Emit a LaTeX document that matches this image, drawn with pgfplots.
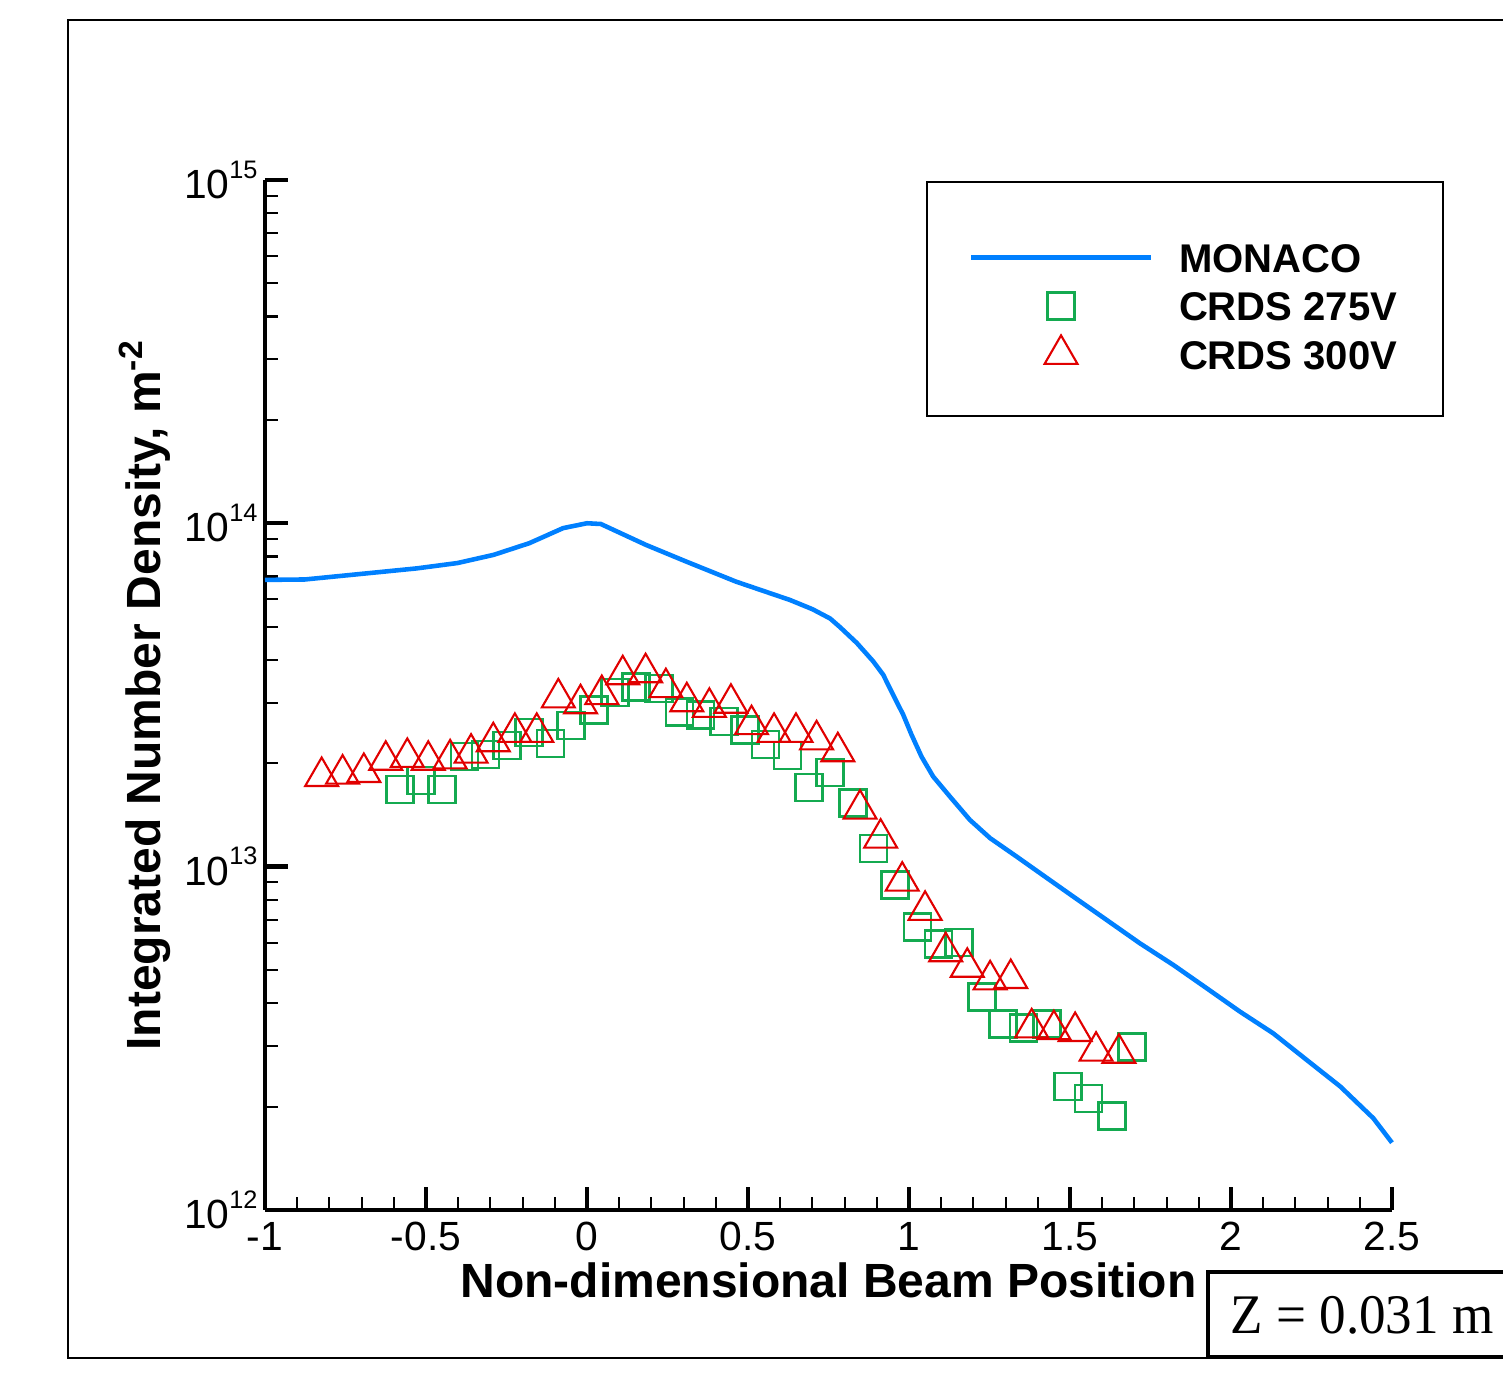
\documentclass[border=0pt]{standalone}
\usepackage{pgfplots}
\pgfplotsset{compat=1.18}
\usepackage{fontspec}
\setmainfont{Liberation Sans}
\newfontfamily\serifZ[FakeStretch=0.95]{Liberation Serif}
\definecolor{monaco}{RGB}{0,128,255}
\definecolor{sqgreen}{RGB}{20,170,80}
\definecolor{trired}{RGB}{225,0,0}
\newcommand{\tensup}[1]{10\raisebox{0.95ex}{\fontsize{7.2}{7.2}\selectfont #1}}
\pgfplotsset{
 mylineleg/.style={legend image code/.code={\path[draw=none] (0cm,-1.45mm) rectangle (1.8cm,1.45mm); \draw[##1, overlay] (0cm,0cm) -- (1.8cm,0cm);}},
 mymarkleg/.style={legend image code/.code={\path[draw=none] (0cm,-1.45mm) rectangle (1.8cm,1.45mm); \draw[##1, overlay] plot coordinates {(0.9cm,0cm)};}},
}

\begin{document}
\begin{tikzpicture}
\useasboundingbox (-2.65cm,-1.73cm) rectangle (12.38cm,12.10cm);
\draw[line width=0.6pt] (-1.97cm,-1.48cm) rectangle (13cm,11.90cm);
\draw[line width=0.6pt] (6.62cm,7.94cm) rectangle (11.78cm,10.28cm);
\begin{axis}[
 at={(0,0)}, anchor=south west, scale only axis,
 width=11.27cm, height=10.30cm,
 xmin=-1, xmax=2.5, ymode=log, ymin=1e12, ymax=1e15,
 axis x line=bottom, axis y line=left,
 axis line style={-, line width=1.3pt},
 tick align=inside,
 xtick={-1,-0.5,0,0.5,1,1.5,2,2.5},
 xticklabels={-1,-0.5,0,0.5,1,1.5,2,2.5},
 minor x tick num=4,
 ytick={1e12,1e13,1e14,1e15},
 yticklabels={\tensup{12},\tensup{13},\tensup{14},\tensup{15}},
 minor ytick={2e12,3e12,4e12,5e12,6e12,7e12,8e12,9e12,2e13,3e13,4e13,5e13,6e13,7e13,8e13,9e13,2e14,3e14,4e14,5e14,6e14,7e14,8e14,9e14},
 major tick length=2.3mm, minor tick length=1.3mm,
 every major tick/.append style={line width=1.2pt, black},
 every minor tick/.append style={line width=0.6pt, black},
 ticklabel style={font=\fontsize{11.6}{13}\selectfont},
 yticklabel style={xshift=0.5mm},
 xlabel={Non-dimensional Beam Position},
 ylabel={Integrated Number Density, m\textsuperscript{-2}},
 label style={font=\bfseries\fontsize{13.66}{16}\selectfont},
 xlabel style={at={(axis description cs:0.5,-0.068)}, anchor=center},
 ylabel style={at={(axis description cs:-0.1065,0.5)}, anchor=center},
 clip=false,
 legend style={draw=none, fill=none, at={(axis description cs:0.6265,0.9442)}, anchor=north west,
   inner sep=0pt, outer sep=0pt, row sep=0.85mm, column sep=2.8mm,
   font=\bfseries\fontsize{11.4}{13}\selectfont,
   nodes={inner sep=0pt, text height=3.5mm, text depth=0.5mm}},
 legend cell align=left,
]
\addplot[monaco, line width=1.3pt, mylineleg]
coordinates {
(-1.000,6.84e13) (-0.876,6.86e13) (-0.695,7.13e13) (-0.528,7.39e13)
(-0.402,7.66e13) (-0.290,8.09e13) (-0.179,8.75e13) (-0.074,9.68e13)
(0.000,1.00e14) (0.043,9.95e13) (0.183,8.65e13) (0.309,7.73e13)
(0.463,6.76e13) (0.630,5.98e13) (0.700,5.62e13) (0.755,5.28e13) (0.786,4.98e13)
(0.838,4.48e13) (0.889,3.96e13) (0.920,3.62e13) (0.951,3.16e13)
(0.982,2.77e13) (1.008,2.42e13) (1.039,2.09e13) (1.075,1.83e13)
(1.127,1.60e13) (1.189,1.368e13) (1.252,1.21e13) (1.334,1.07e13)
(1.407,9.57e12) (1.510,8.18e12) (1.614,6.99e12) (1.717,5.98e12)
(1.821,5.17e12) (1.925,4.42e12) (2.028,3.78e12) (2.131,3.27e12)
(2.235,2.735e12) (2.339,2.29e12) (2.442,1.85e12) (2.500,1.57e12)
};
\addlegendentry{MONACO}
\addplot[only marks, mark=square, color=sqgreen, mark size=1.35mm, mark options={line width=0.7pt}, mymarkleg]
coordinates {
(-0.581,1.68e13) (-0.516,1.78e13) (-0.450,1.68e13) (-0.381,2.09e13)
(-0.316,2.12e13) (-0.248,2.25e13) (-0.180,2.46e13) (-0.114,2.28e13)
(-0.049,2.58e13) (0.022,2.86e13) (0.087,3.21e13) (0.152,3.34e13)
(0.224,3.30e13) (0.288,2.82e13) (0.352,2.76e13) (0.425,2.65e13)
(0.491,2.50e13) (0.554,2.27e13) (0.623,2.11e13) (0.689,1.70e13)
(0.754,1.88e13) (0.826,1.53e13) (0.890,1.13e13) (0.956,8.85e12)
(1.026,6.67e12) (1.091,5.96e12) (1.155,6.02e12) (1.227,4.17e12)
(1.292,3.48e12) (1.356,3.39e12) (1.429,3.48e12) (1.494,2.29e12)
(1.558,2.11e12) (1.630,1.88e12) (1.693,2.98e12)
};
\addlegendentry{CRDS 275V}
\addplot[only marks, mark=triangle, color=trired, mark size=1.9mm, mark options={line width=0.6pt}, mymarkleg]
coordinates {
(-0.824,1.83e13) (-0.759,1.86e13) (-0.693,1.88e13) (-0.625,2.04e13)
(-0.558,2.08e13) (-0.493,2.04e13) (-0.425,2.06e13) (-0.360,2.14e13)
(-0.291,2.31e13) (-0.224,2.46e13) (-0.156,2.46e13) (-0.089,3.10e13)
(-0.020,2.98e13) (0.046,3.17e13) (0.111,3.62e13) (0.182,3.67e13)
(0.245,3.32e13) (0.310,3.02e13) (0.380,2.91e13) (0.447,2.99e13)
(0.511,2.59e13) (0.581,2.46e13) (0.649,2.46e13) (0.713,2.34e13)
(0.779,2.16e13) (0.848,1.47e13) (0.912,1.21e13) (0.979,9.07e12)
(1.050,7.46e12) (1.114,5.65e12) (1.181,5.09e12) (1.252,4.68e12)
(1.316,4.72e12) (1.381,3.39e12) (1.450,3.35e12) (1.516,3.31e12)
(1.581,2.90e12) (1.652,2.86e12)
};
\addlegendentry{CRDS 300V}
\end{axis}
\draw[line width=1.2pt] (9.43cm,-0.62cm) rectangle (13cm,-1.47cm);
\node[anchor=base west, inner sep=0pt, font=\serifZ\fontsize{15.9}{17}\selectfont] at (9.65cm,-1.24cm) {Z = 0.031 m};
\end{tikzpicture}
\end{document}
